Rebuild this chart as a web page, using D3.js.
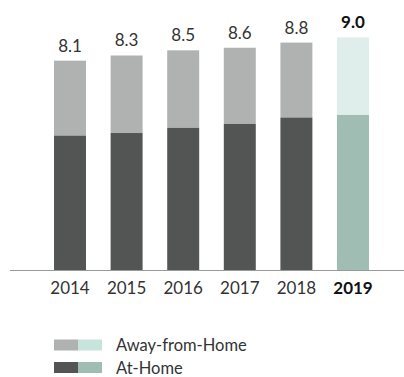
<!DOCTYPE html>
<html>
<head>
<meta charset="utf-8">
<script src="https://cdn.jsdelivr.net/npm/d3@7"></script>
<style>
  body { margin: 0; background: #fff; }
  text { font-family: Lato, "Noto Sans", sans-serif; }
</style>
</head>
<body>
<div id="chart"></div>
<script>
const years = ["2014", "2015", "2016", "2017", "2018", "2019"];
const atHome = [5.2, 5.3, 5.5, 5.65, 5.9, 6.0];
const awayFromHome = [2.9, 3.0, 3.0, 2.95, 2.9, 3.0];
const totals = ["8.1", "8.3", "8.5", "8.6", "8.8", "9.0"];
const legendLabels = ["Away-from-Home", "At-Home"];

const width = 404,
    height = 377;

const colors = {
    away: "#b0b2b2", home: "#535554",
    awayHi: "#e0eeeb", homeHi: "#a0bdb3",
    awayLegend: "#c6e4dc"
};

const svg = d3.select("#chart")
    .append("svg")
    .attr("width", width)
    .attr("height", height);

const x = d3.scaleBand()
    .domain(years)
    .range([29.4, 393.6])
    .padding(0.435);

const y = d3.scaleLinear()
    .domain([0, 9])
    .range([270, 37.4]);

const data = years.map((yr, i) => ({year: yr, home: atHome[i], away: awayFromHome[i], total: totals[i], last: i === years.length - 1}));

const bar = svg.selectAll(".bar")
    .data(data)
    .join("g")
    .attr("class", "bar");

bar.append("rect")
    .attr("x", d => x(d.year))
    .attr("width", x.bandwidth())
    .attr("y", d => y(d.home + d.away))
    .attr("height", d => y(d.home) - y(d.home + d.away))
    .attr("fill", d => d.last ? colors.awayHi : colors.away);

bar.append("rect")
    .attr("x", d => x(d.year))
    .attr("width", x.bandwidth())
    .attr("y", d => y(d.home))
    .attr("height", d => y(0) - y(d.home))
    .attr("fill", d => d.last ? colors.homeHi : colors.home);

bar.append("text")
    .text(d => d.total)
    .attr("x", d => x(d.year) + x.bandwidth() / 2)
    .attr("y", d => y(d.home + d.away) - 9)
    .attr("text-anchor", "middle")
    .attr("font-size", 17)
    .attr("font-weight", d => d.last ? "bold" : "normal")
    .attr("fill", d => d.last ? "#111" : "#333");

// baseline
svg.append("line")
    .attr("x1", 10)
    .attr("x2", width)
    .attr("y1", y(0) + 0.5)
    .attr("y2", y(0) + 0.5)
    .attr("stroke", "#999")
    .attr("stroke-width", 1);

const xAxis = g => g
    .attr("transform", `translate(0,${y(0)})`)
    .call(d3.axisBottom(x).tickSize(0).tickPadding(12))
    .call(g => g.select(".domain").remove())
    .call(g => g.selectAll("text")
        .attr("font-size", 17)
        .attr("fill", (d, i) => i === years.length - 1 ? "#111" : "#333")
        .attr("font-weight", (d, i) => i === years.length - 1 ? "bold" : "normal")
        .style("font-family", "Lato, 'Noto Sans', sans-serif"));

svg.append("g").call(xAxis);

// legend
const legend = svg.selectAll(".legend")
    .data(legendLabels)
    .join("g")
    .attr("class", "legend")
    .attr("transform", (d, i) => `translate(54,${339.5 + i * 22.5})`);

legend.append("rect")
    .attr("width", 24).attr("height", 11)
    .attr("fill", (d, i) => i === 0 ? colors.away : colors.home);

legend.append("rect")
    .attr("x", 24)
    .attr("width", 24).attr("height", 11)
    .attr("fill", (d, i) => i === 0 ? colors.awayLegend : colors.homeHi);

legend.append("text")
    .text(d => d)
    .attr("x", 62)
    .attr("y", 11.5)
    .attr("font-size", 16.5)
    .attr("fill", "#333");
</script>
</body>
</html>
